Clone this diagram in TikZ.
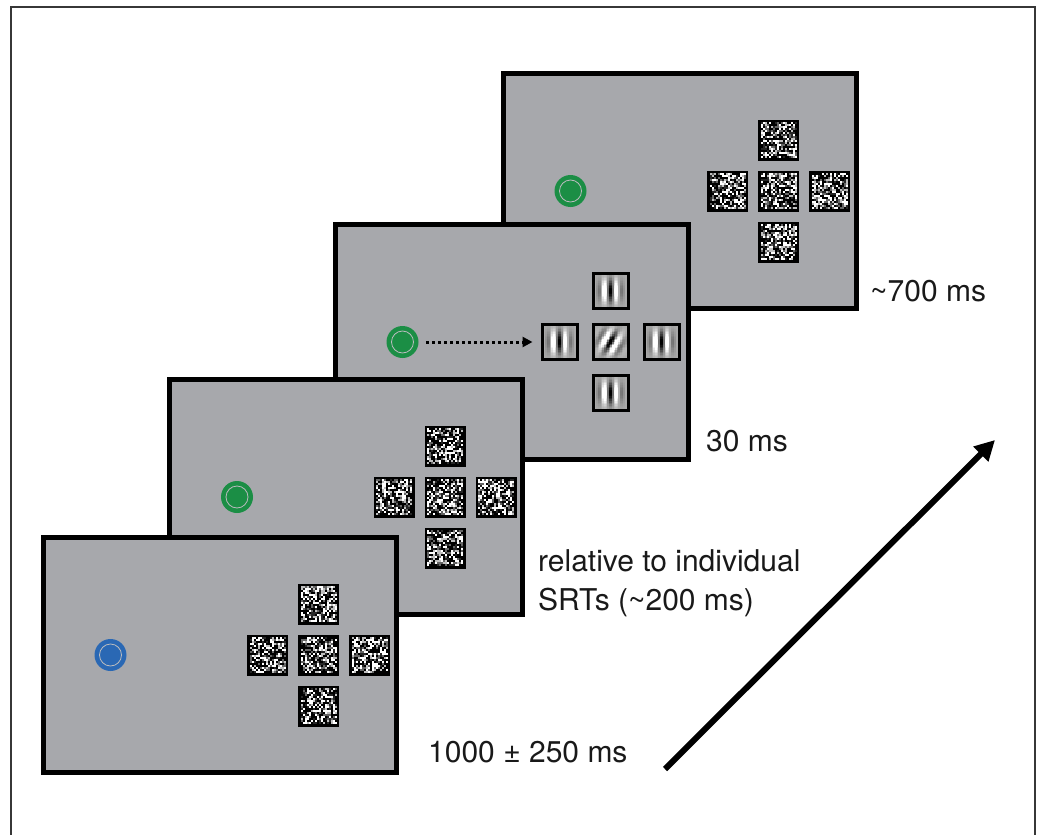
\documentclass[tikz,border=0pt]{standalone}
\usepackage{fontspec}
\setmainfont{TeX Gyre Heros}
\usetikzlibrary{arrows.meta,calc}

\definecolor{screengray}{RGB}{167,168,172}
\definecolor{fixgreen}{RGB}{27,142,69}
\definecolor{fixblue}{RGB}{42,104,180}
\definecolor{ringgray}{RGB}{185,187,190}
\definecolor{framegray}{RGB}{55,55,55}
\definecolor{labelink}{RGB}{25,25,25}

\tikzset{
  screen/.style={draw=black, fill=screengray, line width=5pt,
    minimum width=353pt, minimum height=235pt, inner sep=0pt},
  noisebox/.style={draw=black, line width=2.5pt, minimum size=38.5pt, inner sep=0pt},
  gaborbox/.style={draw=black, line width=3pt, minimum size=35pt, inner sep=0pt},
  fixdot/.style={circle, minimum size=32pt, inner sep=0pt},
  fixring/.style={draw=ringgray, line width=0.8pt},
  timelabel/.style={anchor=base west, inner sep=0pt, text=labelink,
    font=\fontsize{30}{39}\selectfont},
  cue/.style={line width=3pt, dash pattern=on 3pt off 3pt,
    -{Triangle[length=10pt,width=10pt]}},
  timearrow/.style={line width=6pt, -{Triangle[length=20pt,width=20pt]}},
}

% random black/white texture in a 36pt square, then its frame
\newcommand\noisepatch[2]{%
  \begin{scope}[shift={(#2)}]
    \foreach \i in {0,...,17}{\foreach \j in {0,...,17}{%
      \pgfmathrandominteger{\k}{0}{7}%
      \pgfmathsetmacro{\p}{{100,100,100,85,60,25,0,0}[\k]}%
      \fill[black!\p!white] (-18+\i*2,-18+\j*2) rectangle ++(2.1,2.1);
    }}
  \end{scope}
  \node[noisebox] (#1) at (#2) {};
}

% Gabor grating (wavelength 12pt, sigma 7.5pt) rotated by #3 degrees
\newcommand\gaborpatch[3]{%
  \begin{scope}[shift={(#2)}]
    \foreach \i in {0,...,19}{\foreach \j in {0,...,19}{%
      \pgfmathsetmacro\xx{-15.2+\i*1.6}%
      \pgfmathsetmacro\yy{-15.2+\j*1.6}%
      \pgfmathsetmacro\uu{\xx*cos(#3)+\yy*sin(#3)}%
      \pgfmathsetmacro\bb{min(1,max(0,0.66-0.75*cos(30*\uu)*exp(-(\xx*\xx+\yy*\yy)/112)))}%
      \definecolor{gcell}{gray}{\bb}%
      \fill[gcell] (\xx-0.85,\yy-0.85) rectangle (\xx+0.85,\yy+0.85);
    }}
  \end{scope}
  \node[gaborbox] (#1) at (#2) {};
}

% five noise patches arranged as a cross around coordinate #1
\newcommand\noisecross[1]{%
  \path (#1) ++(0,-51) coordinate (#1t) (#1) ++(0,51) coordinate (#1b)
        (#1) ++(-51,0) coordinate (#1l) (#1) ++(51,0) coordinate (#1r);
  \noisepatch{#1-n-c}{#1}
  \noisepatch{#1-n-t}{#1t}
  \noisepatch{#1-n-b}{#1b}
  \noisepatch{#1-n-l}{#1l}
  \noisepatch{#1-n-r}{#1r}
}

\begin{document}
\begin{tikzpicture}[x=1pt,y=-1pt]
\pgfmathsetseed{7}
\useasboundingbox (0,0) rectangle (1037,835);

% surrounding frame, open at the bottom
\draw[framegray, line width=2pt] (11,840) -- (11,7) -- (1035,7) -- (1035,840);

% screen 4: noise mask
\node[screen] (s4) at (679.5,191) {};
\coordinate (c4) at ($(s4.center)+(99,0)$);
\noisecross{c4}
\node[fixdot, fill=fixgreen] (f4) at ($(s4.center)+(-109,0)$) {};
\draw[fixring] (f4.center) circle[radius=11pt];

% screen 3: Gabor targets
\node[screen] (s3) at (511.5,342) {};
\coordinate (c3) at ($(s3.center)+(99,0)$);
\path (c3) ++(0,-51) coordinate (c3t) (c3) ++(0,51) coordinate (c3b)
      (c3) ++(-51,0) coordinate (c3l) (c3) ++(51,0) coordinate (c3r);
\gaborpatch{g3c}{c3}{30}
\gaborpatch{g3t}{c3t}{0}
\gaborpatch{g3b}{c3b}{0}
\gaborpatch{g3l}{c3l}{0}
\gaborpatch{g3r}{c3r}{0}
\node[fixdot, fill=fixgreen] (f3) at ($(s3.center)+(-109,0)$) {};
\draw[fixring] (f3.center) circle[radius=11pt];
\draw[cue, shorten <=7.5pt, shorten >=8pt] (f3) -- (g3l);

% screen 2: noise with green fixation
\node[screen] (s2) at (346,497) {};
\coordinate (c2) at ($(s2.center)+(99,0)$);
\noisecross{c2}
\node[fixdot, fill=fixgreen] (f2) at ($(s2.center)+(-109,0)$) {};
\draw[fixring] (f2.center) circle[radius=11pt];

% screen 1: noise with blue fixation
\node[screen] (s1) at (219.5,655) {};
\coordinate (c1) at ($(s1.center)+(99,0)$);
\noisecross{c1}
\node[fixdot, fill=fixblue] (f1) at ($(s1.center)+(-109,0)$) {};
\draw[fixring] (f1.center) circle[radius=11pt];

% durations
\node[timelabel] (t4) at (870,301) {\textasciitilde700 ms};
\node[timelabel] (t3) at (706,451) {30 ms};
\node[timelabel, align=left] (t2) at (538,610) {relative to individual\\SRTs (\textasciitilde200 ms)};
\node[timelabel] (t1) at (428,762) {1000 ± 250 ms};

% time axis
\coordinate (tstart) at (665,769);
\coordinate (tend) at (995,440);
\draw[timearrow] (tstart) -- (tend);
\end{tikzpicture}
\end{document}
